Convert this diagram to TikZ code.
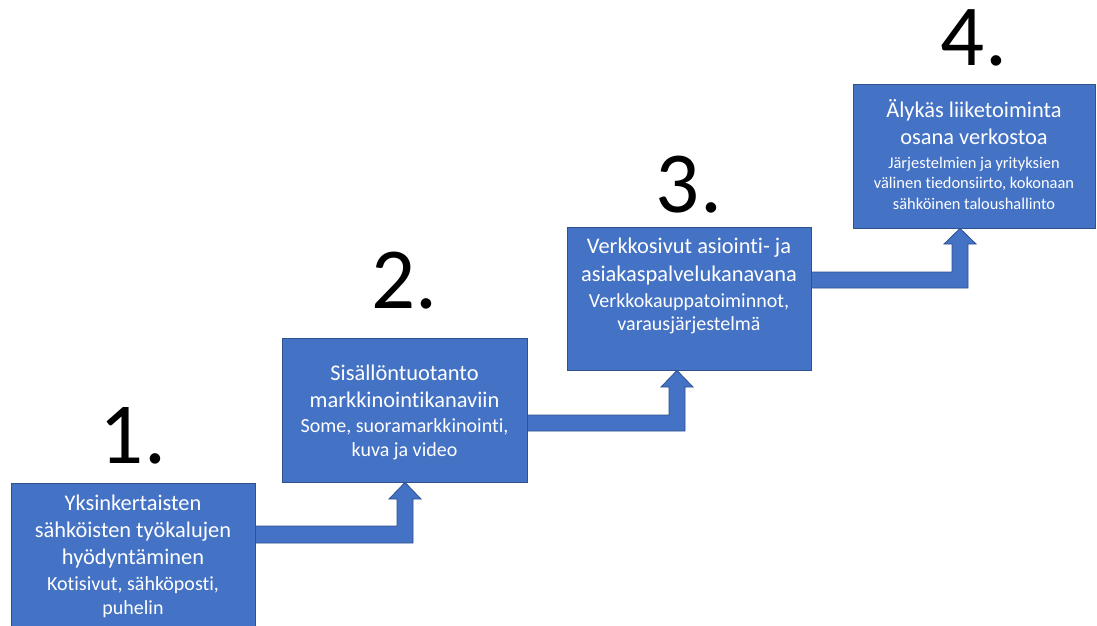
\documentclass[tikz,border=0pt]{standalone}
\usepackage{fontspec}
\setmainfont{Carlito}[Ligatures={NoCommon}, Contextuals={NoAlternate}]
\definecolor{boxblue}{HTML}{4472C4}
\definecolor{boxline}{HTML}{2F528F}
\tikzset{
  stepbox/.style={rectangle, fill=boxblue, draw=boxline, line width=0.8pt, inner sep=0pt},
  blockarrow/.style={fill=boxblue, draw=boxline, line width=0.8pt, line join=miter},
  ttl/.style={text=white, anchor=base, inner sep=0pt, font=\fontsize{22.4}{27}\selectfont},
  sub/.style={text=white, anchor=base, inner sep=0pt, font=\fontsize{20}{24}\selectfont},
  subs/.style={text=white, anchor=base, inner sep=0pt, font=\fontsize{16.4}{20}\selectfont},
  num/.style={text=black, anchor=base, inner sep=0pt, font=\fontsize{87}{100}\selectfont},
}
\begin{document}
\begin{tikzpicture}[x=1pt,y=-1pt]
\clip (0,0) rectangle (1097,625);
\fill[white] (0,0) rectangle (1097,625);

% boxes
\node[stepbox, minimum width=244pt, minimum height=146pt] (b1) at (133,556) {};
\node[stepbox, minimum width=245pt, minimum height=144pt] (b2) at (404.5,410) {};
\node[stepbox, minimum width=244pt, minimum height=143pt] (b3) at (689,298.5) {};
\node[stepbox, minimum width=242pt, minimum height=144pt] (b4) at (974,156) {};

% numbers
\node[num] (n1) at (b1.north |- 0,463) {1.};
\node[num] (n2) at (b2.north |- 0,308) {2.};
\node[num] (n3) at (b3.north |- 0,212) {3.};
\node[num] (n4) at (b4.north |- 0,65) {4.};

% box 1 text
\node[ttl] (t1a) at (b1.north |- 0,510) {Yksinkertaisten};
\node[ttl] (t1b) at (b1.north |- 0,537) {sähköisten työkalujen};
\node[ttl] (t1c) at (b1.north |- 0,564) {hyödyntäminen};
\node[sub] (t1d) at (b1.north |- 0,590) {Kotisivut, sähköposti,};
\node[sub] (t1e) at (b1.north |- 0,614) {puhelin};

% box 2 text
\node[ttl] (t2a) at (b2.north |- 0,380) {Sisällöntuotanto};
\node[ttl] (t2b) at (b2.north |- 0,407) {markkinointikanaviin};
\node[sub] (t2c) at (b2.north |- 0,432) {Some, suoramarkkinointi,};
\node[sub] (t2d) at (b2.north |- 0,456) {kuva ja video};

% box 3 text
\node[ttl] (t3a) at (b3.north |- 0,253) {Verkkosivut asiointi- ja};
\node[ttl] (t3b) at (b3.north |- 0,281) {asiakaspalvelukanavana};
\node[sub] (t3c) at (b3.north |- 0,307) {Verkkokauppatoiminnot,};
\node[sub] (t3d) at (b3.north |- 0,330) {varausjärjestelmä};

% box 4 text
\node[ttl] (t4a) at (b4.north |- 0,117) {Älykäs liiketoiminta};
\node[ttl] (t4b) at (b4.north |- 0,144) {osana verkostoa};
\node[subs] (t4c) at (b4.north |- 0,168) {Järjestelmien ja yrityksien};
\node[subs] (t4d) at (b4.north |- 0,188) {välinen tiedonsiirto, kokonaan};
\node[subs] (t4e) at (b4.north |- 0,209) {sähköinen taloushallinto};

% bent block arrows
\draw[blockarrow] (b1.east |- 0,526) -- (397,526) -- (397,499) -- (389,499)
  -- (b2.south -| 405,0) -- (421,499) -- (413,499) -- (413,543) -- (b1.east |- 0,543) -- cycle;
\draw[blockarrow] (b2.east |- 0,415) -- (669,415) -- (669,387) -- (661,387)
  -- (b3.south -| 677,0) -- (693,387) -- (685,387) -- (685,431) -- (b2.east |- 0,431) -- cycle;
\draw[blockarrow] (b3.east |- 0,272) -- (952,272) -- (952,244) -- (944,244)
  -- (b4.south -| 960,0) -- (976,244) -- (968,244) -- (968,288) -- (b3.east |- 0,288) -- cycle;
\end{tikzpicture}
\end{document}
